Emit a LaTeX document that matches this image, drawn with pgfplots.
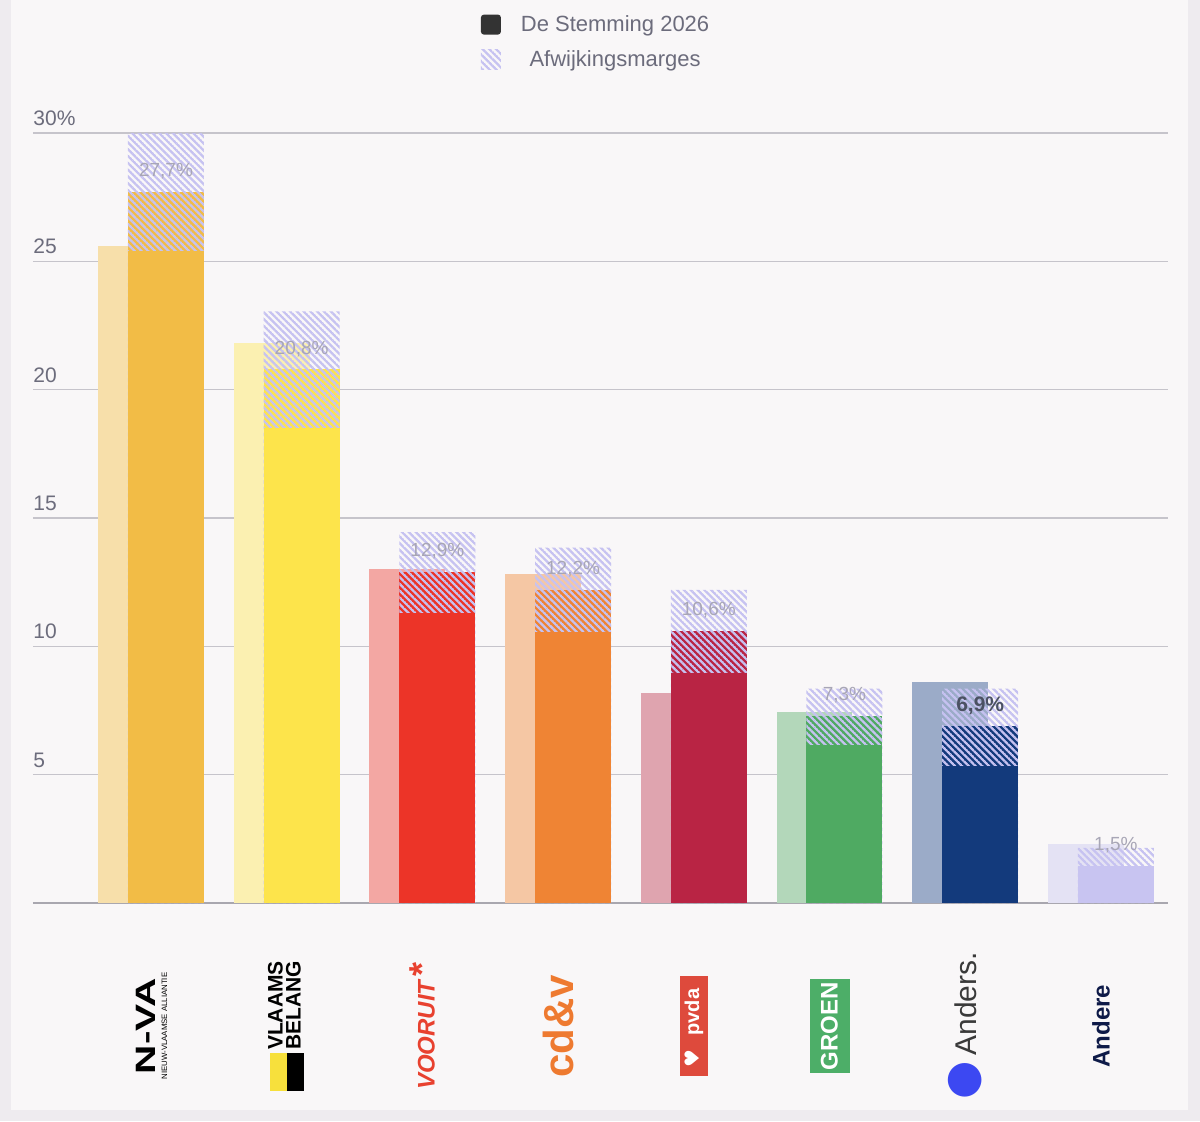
\documentclass[border=0pt]{standalone}
\usepackage{pgfplots}
\pgfplotsset{compat=1.18}
\usepackage{graphicx}
\usepackage{fontspec}
\setmainfont{Liberation Sans}
\newfontfamily\dejavu{DejaVu Sans}
\usetikzlibrary{patterns.meta}

\definecolor{framebg}{HTML}{EEEBEF}
\definecolor{panelbg}{HTML}{F9F7F8}
\definecolor{gridgray}{HTML}{C6C4CB}
\definecolor{basegray}{HTML}{A9A7AF}
\definecolor{tickgray}{HTML}{6C6C7C}
\definecolor{labelgray}{HTML}{A8A6B6}
\definecolor{halodark}{HTML}{4B5162}
\definecolor{lav}{HTML}{C6C2F1}
\definecolor{legdark}{HTML}{333333}

\definecolor{nva}{HTML}{F2BC46}    \definecolor{nvaL}{HTML}{F7DFAA}
\definecolor{vb}{HTML}{FDE44B}     \definecolor{vbL}{HTML}{FBF0B1}
\definecolor{voo}{HTML}{EC3428}    \definecolor{vooL}{HTML}{F3A7A3}
\definecolor{cdv}{HTML}{EF8434}    \definecolor{cdvL}{HTML}{F5C7A4}
\definecolor{pvda}{HTML}{B92444}   \definecolor{pvdaL}{HTML}{DFA4AF}
\definecolor{groen}{HTML}{4FAA62}  \definecolor{groenL}{HTML}{B3D7BA}
\definecolor{anders}{HTML}{133A7C} \definecolor{andersL}{HTML}{9BABC8}
\definecolor{andere}{HTML}{C8C4F1} \definecolor{andereL}{HTML}{E4E2F4}

\definecolor{vbyellow}{HTML}{F7E03C}
\definecolor{vooruittxt}{HTML}{E8412F}
\definecolor{cdvtxt}{HTML}{EE7A30}
\definecolor{pvdabox}{HTML}{DE4A3C}
\definecolor{groentxt}{HTML}{4DAE68}
\definecolor{andersdot}{HTML}{3C48F2}
\definecolor{anderstxt}{HTML}{3A3A3A}
\definecolor{anderenavy}{HTML}{0E1A48}

\tikzdeclarepattern{
  name=marge,
  type=uncolored,
  bounding box={(0pt,-0.6pt) and (2.4pt,0.6pt)},
  tile size={(2.4pt,2.4pt)},
  tile transformation={rotate=-45},
  code={
    \pgfsetlinewidth{1.15pt}
    \pgfpathmoveto{\pgfqpoint{0pt}{0pt}}
    \pgfpathlineto{\pgfqpoint{2.4pt}{0pt}}
    \pgfusepath{stroke}
  }
}

\pgfplotsset{
  barstyle/.style={ybar, bar width=0.56, bar shift=0pt, draw=none, forget plot, fill=#1},
  hatchstyle/.style={ybar, bar width=0.56, bar shift=0pt, draw=none, forget plot, pattern=marge, pattern color=lav},
}

\begin{document}
\begin{tikzpicture}
\fill[framebg] (0,0) rectangle (600pt,560.5pt);
\fill[panelbg] (5.5pt,5.5pt) rectangle (594pt,560.5pt);
\path[use as bounding box] (0,0) rectangle (600pt,560.5pt);
\begin{axis}[
  at={(16.5pt,109pt)}, anchor=south west,
  scale only axis, width=567.5pt, height=385pt,
  xmin=-0.980, xmax=7.384, ymin=0, ymax=30,
  clip=false,
  axis line style={draw=none},
  major tick length=0pt,
  ytick={5,10,15,20,25,30},
  yticklabels={5,10,15,20,25,30\%},
  ymajorgrids,
  grid style={color=gridgray, line width=0.7pt},
  extra y ticks={0},
  extra y tick labels={},
  extra y tick style={grid style={color=basegray, line width=0.8pt}},
  yticklabel style={anchor=south west, inner sep=0pt, yshift=3.5pt,
    font=\fontsize{10.5}{12}\selectfont, text=tickgray},
  xtick={-0.08,0.89,1.89,2.89,3.89,4.89,5.89,6.89},
  xticklabels={
    {\begin{tabular}{@{}c@{}}\scalebox{1.45}[1]{\fontsize{14}{14}\selectfont\bfseries N-VA}\\[-6pt]\fontsize{3.9}{4.5}\selectfont NIEUW-VLAAMSE ALLIANTIE\end{tabular}},
    {{\color{black}\rule[-6pt]{19pt}{8.5pt}}\llap{{\color{vbyellow}\rule[2.5pt]{19pt}{8.5pt}}}\hspace{1.5pt}\begin{tabular}{@{}c@{}}\fontsize{10.5}{10}\selectfont\bfseries VLAAMS\\[-3pt]\fontsize{10.5}{10}\selectfont\bfseries BELANG\end{tabular}},
    {\color{vooruittxt}\bfseries\itshape\fontsize{12}{12}\selectfont VOORUIT\,{\upshape\fontsize{18}{12}\selectfont *}},
    {\color{cdvtxt}\bfseries\fontsize{21}{21}\selectfont cd\&v},
    {\setlength{\fboxsep}{2.5pt}\colorbox{pvdabox}{\color{white}\bfseries\fontsize{10}{10}\selectfont\hspace{2pt}{\dejavu ♥}\hspace{7pt}pvda\hspace{4pt}}},
    {\setlength{\fboxsep}{1.5pt}\colorbox{groentxt}{\rule[-4.5pt]{0pt}{17pt}\color{white}\bfseries\fontsize{12}{12}\selectfont GROEN}},
    {{\dejavu\fontsize{22}{22}\selectfont\color{andersdot}●}\hspace{3pt}{\fontsize{15}{15}\selectfont\color{anderstxt}Anders.}},
    {\color{anderenavy}\bfseries\fontsize{12}{12}\selectfont Andere}
  },
  xticklabel style={yshift=-61.5pt, rotate=90, anchor=center, inner sep=0pt},
  legend style={at={(0.497,1.164)}, anchor=north, draw=none, fill=none,
    font=\fontsize{11}{13}\selectfont, text=tickgray, row sep=4pt,
    legend cell align=center,
    /tikz/every odd column/.append style={column sep=8pt}},
]
\addlegendimage{legend image code/.code={\fill[legdark, draw=none, rounded corners=1.5pt] (0pt,-5pt) rectangle (10pt,5pt);}}
\addlegendentry{De Stemming 2026}
\addlegendimage{legend image code/.code={\path[draw=none, pattern=marge, pattern color=lav] (0pt,-5pt) rectangle (10pt,5pt);}}
\addlegendentry{Afwijkingsmarges}

% previous results (light bars)
\addplot[barstyle=nvaL]    coordinates {(-0.221,25.6)};
\addplot[barstyle=vbL]     coordinates {(0.779,21.8)};
\addplot[barstyle=vooL]    coordinates {(1.779,13.0)};
\addplot[barstyle=cdvL]    coordinates {(2.779,12.8)};
\addplot[barstyle=pvdaL]   coordinates {(3.779,8.2)};
\addplot[barstyle=groenL]  coordinates {(4.779,7.45)};
\addplot[barstyle=andersL] coordinates {(5.779,8.6)};
\addplot[barstyle=andereL] coordinates {(6.779,2.3)};

% De Stemming 2026 (value)
\addplot[barstyle=nva]    coordinates {(0,27.7)};
\addplot[barstyle=vb]     coordinates {(1,20.8)};
\addplot[barstyle=voo]    coordinates {(2,12.9)};
\addplot[barstyle=cdv]    coordinates {(3,12.2)};
\addplot[barstyle=pvda]   coordinates {(4,10.6)};
\addplot[barstyle=groen]  coordinates {(5,7.3)};
\addplot[barstyle=anders] coordinates {(6,6.9)};
\addplot[barstyle=andere] coordinates {(7,1.45)};

% margins: hatch up to upper bound
\addplot[hatchstyle] coordinates {(0,30.0) (1,23.05) (2,14.45) (3,13.85) (4,12.2) (5,8.35) (6,8.35) (7,2.15)};

% solid part up to lower bound
\addplot[barstyle=nva]    coordinates {(0,25.4)};
\addplot[barstyle=vb]     coordinates {(1,18.5)};
\addplot[barstyle=voo]    coordinates {(2,11.3)};
\addplot[barstyle=cdv]    coordinates {(3,10.55)};
\addplot[barstyle=pvda]   coordinates {(4,8.95)};
\addplot[barstyle=groen]  coordinates {(5,6.15)};
\addplot[barstyle=anders] coordinates {(6,5.35)};
\addplot[barstyle=andere] coordinates {(7,1.45)};

% value labels
\tikzset{vlab/.style={text=labelgray, inner sep=0pt, font=\fontsize{9.5}{11}\selectfont}}
\node[vlab] at (axis cs:0,28.5) {27,7\%};
\node[vlab] at (axis cs:1,21.6) {20,8\%};
\node[vlab] at (axis cs:2,13.7) {12,9\%};
\node[vlab] at (axis cs:3,13.0) {12,2\%};
\node[vlab] at (axis cs:4,11.4) {10,6\%};
\node[vlab] at (axis cs:5,8.1) {7,3\%};
\node[vlab] at (axis cs:7,2.25) {1,5\%};
\node[inner sep=0pt, text=halodark, font=\fontsize{10.5}{12}\selectfont\bfseries] at (axis cs:6,7.7) {6,9\%};
\end{axis}
\end{tikzpicture}
\end{document}
